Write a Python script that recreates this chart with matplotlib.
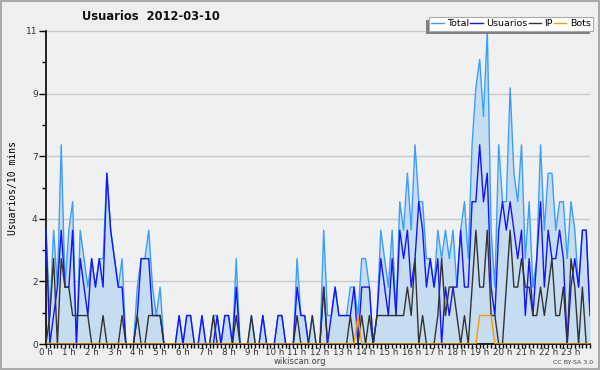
import matplotlib
matplotlib.use("Agg")
import matplotlib.pyplot as plt
import numpy as np
from matplotlib.patches import Rectangle

# -----------------------------
# Data (10-minute slots, 0h00 .. 23h50)
# -----------------------------
TOTAL = [
    4, 1, 4, 2, 7, 2, 4, 5, 0, 4, 3, 2, 3, 2, 3, 3, 6, 4, 3, 2, 3, 0, 0, 0,
    2, 3, 3, 4, 2, 1, 2, 0, 0, 0, 0, 1, 0, 1, 1, 0, 0, 1, 0, 0, 1, 1, 0, 1,
    1, 0, 3, 0, 0, 0, 1, 0, 0, 1, 0, 0, 0, 1, 1, 0, 0, 0, 3, 1, 1, 0, 1, 0,
    0, 4, 1, 1, 2, 1, 1, 1, 2, 2, 1, 3, 3, 2, 0, 1, 4, 3, 2, 4, 1, 5, 4, 6,
    4, 7, 5, 5, 3, 3, 2, 4, 3, 4, 3, 4, 2, 4, 5, 3, 7, 9, 10, 8, 11, 4, 2, 7,
    5, 5, 9, 6, 5, 7, 3, 5, 2, 3, 7, 4, 6, 6, 4, 5, 5, 3, 5, 4, 2, 4, 4, 1,
]
USUARIOS = [
    4, 0, 1, 2, 4, 2, 2, 4, 0, 3, 2, 1, 3, 2, 3, 2, 6, 4, 3, 2, 2, 0, 0, 0,
    1, 3, 3, 3, 1, 1, 1, 0, 0, 0, 0, 1, 0, 1, 1, 0, 0, 1, 0, 0, 0, 1, 0, 1,
    1, 0, 2, 0, 0, 0, 0, 0, 0, 1, 0, 0, 0, 1, 1, 0, 0, 0, 2, 1, 1, 0, 0, 0,
    0, 2, 0, 1, 2, 1, 1, 1, 1, 2, 0, 2, 2, 2, 0, 1, 3, 2, 1, 3, 1, 4, 3, 4,
    2, 3, 5, 4, 2, 3, 2, 3, 0, 2, 1, 2, 2, 4, 2, 2, 5, 5, 7, 5, 6, 2, 1, 4,
    5, 4, 5, 4, 3, 4, 1, 3, 1, 3, 5, 2, 4, 3, 3, 4, 3, 0, 2, 3, 2, 4, 4, 1,
]
IP = [
    0, 1, 3, 0, 3, 2, 2, 1, 1, 1, 1, 1, 0, 0, 0, 1, 0, 0, 0, 0, 1, 0, 0, 0,
    1, 0, 0, 1, 1, 1, 1, 0, 0, 0, 0, 0, 0, 0, 0, 0, 0, 0, 0, 0, 1, 0, 0, 0,
    0, 0, 1, 0, 0, 0, 1, 0, 0, 0, 0, 0, 0, 0, 0, 0, 0, 0, 1, 0, 0, 0, 1, 0,
    0, 2, 0, 0, 0, 0, 0, 0, 1, 0, 0, 1, 0, 1, 0, 1, 1, 1, 1, 1, 1, 1, 1, 2,
    1, 3, 0, 1, 0, 0, 0, 1, 3, 1, 2, 2, 1, 0, 1, 0, 2, 4, 2, 2, 4, 1, 1, 0,
    0, 2, 4, 2, 2, 3, 2, 2, 1, 1, 2, 1, 2, 3, 1, 1, 2, 0, 3, 2, 0, 2, 0, 0,
]
BOTS = [0] * 144
BOTS[82] = 1
for k in (114, 115, 116, 117):
    BOTS[k] = 1

HOUR_LABELS = [f"{h} h" for h in range(24)]

# Colours
BG = "#efefef"
PLOT_BG = "#eef0f2"
C_TOTAL = "#3d9ef7"
C_FILL = "#c6dcf0"
C_USERS = "#1414ff"
C_IP = "#333333"
C_BOTS = "#ff9900"
GRID = "#c8c8c8"

x = np.arange(len(TOTAL))

fig = plt.figure(figsize=(6, 3.7), dpi=100, facecolor=BG)
ax = fig.add_axes([46 / 600, 1 - 344 / 370, 544 / 600, 313 / 370])
ax.set_facecolor(PLOT_BG)

ax.fill_between(x, TOTAL, 0, color=C_FILL, lw=0, zorder=1)
l_tot, = ax.plot(x, TOTAL, color=C_TOTAL, lw=1.0, label="Total", zorder=3)
l_usr, = ax.plot(x, USUARIOS, color=C_USERS, lw=1.0, label="Usuarios", zorder=4)
l_ip, = ax.plot(x, IP, color=C_IP, lw=1.0, label="IP", zorder=4)
l_bot, = ax.plot(x, BOTS, color=C_BOTS, lw=1.0, label="Bots", zorder=5)

ax.set_xlim(0, len(TOTAL) - 1)
ax.set_ylim(0, 11)

# y axis: 5 equal steps, labels rounded like the source
yticks = np.linspace(0, 11, 6)
ax.set_yticks(yticks)
ax.set_yticklabels([f"{v:.0f}" for v in np.round(yticks + 1e-9)], fontsize=6.5, color="#333333")
ax.set_yticks(yticks[:-1] + 1.1, minor=True)
ax.yaxis.grid(True, color=GRID, lw=1, zorder=0)
ax.set_axisbelow(True)

ax.set_xticks(np.arange(0, 144, 6))
ax.set_xticklabels(HOUR_LABELS, fontsize=6.3, color="#333333")
ax.set_xticks(np.arange(0, 144), minor=True)

ax.tick_params(axis="y", which="major", length=5, width=1, pad=1)
ax.tick_params(axis="y", which="minor", length=3, width=1)
ax.tick_params(axis="x", which="both", length=3, width=1, pad=0)

for side in ("top", "right"):
    ax.spines[side].set_visible(False)
for side in ("left", "bottom"):
    ax.spines[side].set_color("black")
    ax.spines[side].set_linewidth(1.2)

ax.set_ylabel("Usuarios/10 mins", family="DejaVu Sans Mono", fontsize=7, labelpad=6)

fig.text(151 / 600, 1 - 16 / 370, "Usuarios  2012-03-10", fontsize=8.3,
         fontweight="bold", ha="center", va="center", color="#111111")
fig.text(300 / 600, 1 - 362 / 370, "wikiscan.org", fontsize=6, ha="center",
         va="center", color="#444444")
fig.text(573 / 600, 1 - 362 / 370, "CC BY-SA 3.0", fontsize=4.5, ha="center",
         va="center", color="#444444")

leg = fig.legend(handles=[l_tot, l_usr, l_ip, l_bot], ncol=4,
                 loc="upper right", bbox_to_anchor=(593 / 600, 1 - 17 / 370),
                 fontsize=6.8, frameon=True, fancybox=False, handlelength=1.3,
                 handletextpad=0.35, columnspacing=0.15, borderpad=0.25,
                 borderaxespad=0)
leg.get_frame().set_facecolor("white")
leg.get_frame().set_edgecolor("#aaaaaa")
leg.get_frame().set_linewidth(0.8)
leg.get_frame().set_alpha(1)

# grey drop shadow down-left of the legend box
fig.canvas.draw()
bb = leg.get_window_extent().transformed(fig.transFigure.inverted())
shadow = Rectangle((bb.x0 - 3 / 600, bb.y0 - 3 / 370), bb.width, bb.height,
                   transform=fig.transFigure, facecolor="#7f7f7f",
                   edgecolor="none", zorder=leg.get_zorder() - 1)
fig.patches.append(shadow)

# thin frame round the whole image
fig.patches.append(Rectangle((0.001, 0.002), 0.997, 0.995, transform=fig.transFigure,
                             fill=False, edgecolor="#aaaaaa", lw=1.5))

fig.savefig("out.png", dpi=100, facecolor=BG)
